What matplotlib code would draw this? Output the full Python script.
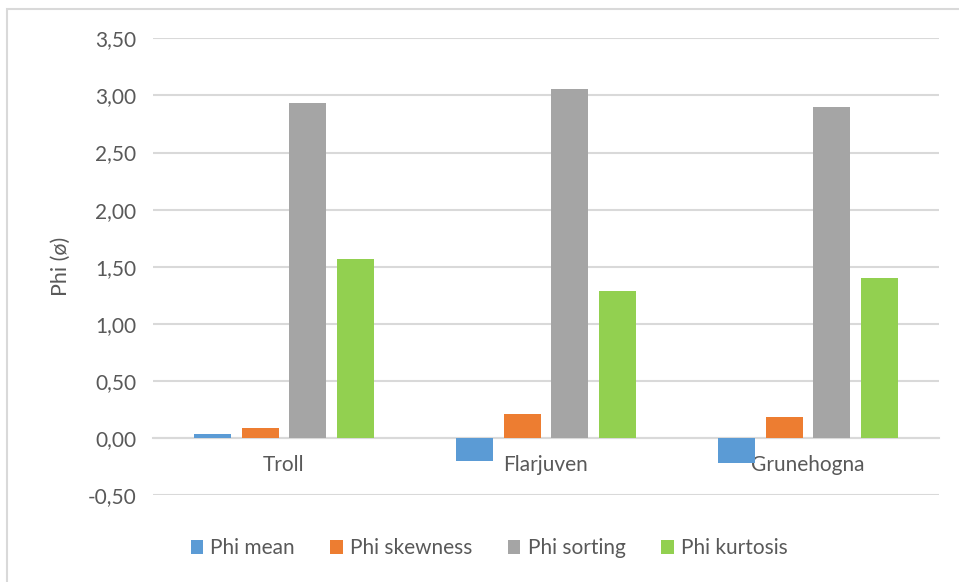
import matplotlib
matplotlib.use('Agg')
import matplotlib.pyplot as plt
import numpy as np
from matplotlib.patches import Rectangle
from matplotlib.ticker import FuncFormatter

plt.rcParams['font.family'] = ['Lato', 'DejaVu Sans']

sites = ['Troll', 'Flarjuven', 'Grunehogna']
series = ['Phi mean', 'Phi skewness', 'Phi sorting', 'Phi kurtosis']
phi_mean = [0.04, -0.20, -0.22]
phi_skewness = [0.09, 0.21, 0.19]
phi_sorting = [2.93, 3.06, 2.90]
phi_kurtosis = [1.57, 1.29, 1.40]
colors = ['#5B9BD5', '#ED7D31', '#A5A5A5', '#92D050']

fig = plt.figure(figsize=(9.59, 5.82), dpi=100)
ax = fig.add_axes([0.1595, 0.1488, 0.8196, 0.7854])

x = np.arange(len(sites))
pitch, width = 0.182, 0.141
for i, (name, vals, c) in enumerate(zip(series, [phi_mean, phi_skewness, phi_sorting, phi_kurtosis], colors)):
    ax.bar(x + (i - 1.5) * pitch, vals, width, color=c, label=name, zorder=3)

ax.set_xlim(-0.5, 2.5)
ax.set_ylim(-0.5, 3.5)
ax.set_yticks(np.arange(-0.5, 3.51, 0.5))
ax.yaxis.set_major_formatter(FuncFormatter(lambda v, p: f'{v:.2f}'.replace('.', ',')))
ax.grid(axis='y', color='#D9D9D9', lw=1.5, zorder=0)
for s in ['top', 'right', 'left']:
    ax.spines[s].set_visible(False)
ax.spines['bottom'].set_position(('data', 0))
ax.spines['bottom'].set_color('#D9D9D9')
ax.spines['bottom'].set_linewidth(1.5)
ax.set_xticks(x)
ax.set_xticklabels(sites)
ax.tick_params(axis='x', length=0, pad=12, labelsize=15, labelcolor='#595959')
ax.tick_params(axis='y', length=0, pad=12, labelsize=15, labelcolor='#595959')
ax.set_ylabel('Phi (ø)', fontsize=15.5, color='#595959', labelpad=12)

ax.legend(loc='center', bbox_to_anchor=(0.51, 0.058), bbox_transform=fig.transFigure,
          ncol=4, frameon=False, fontsize=15, handlelength=0.6, handleheight=0.6,
          handletextpad=0.35, columnspacing=1.7, labelcolor='#595959')

# chart area border
fig.patches.append(Rectangle((7 / 959, -0.1), 1.1, 1 - 9 / 582 + 0.1, transform=fig.transFigure,
                             fill=False, edgecolor='#D9D9D9', lw=1.5))

fig.savefig('out.png', dpi=100)
